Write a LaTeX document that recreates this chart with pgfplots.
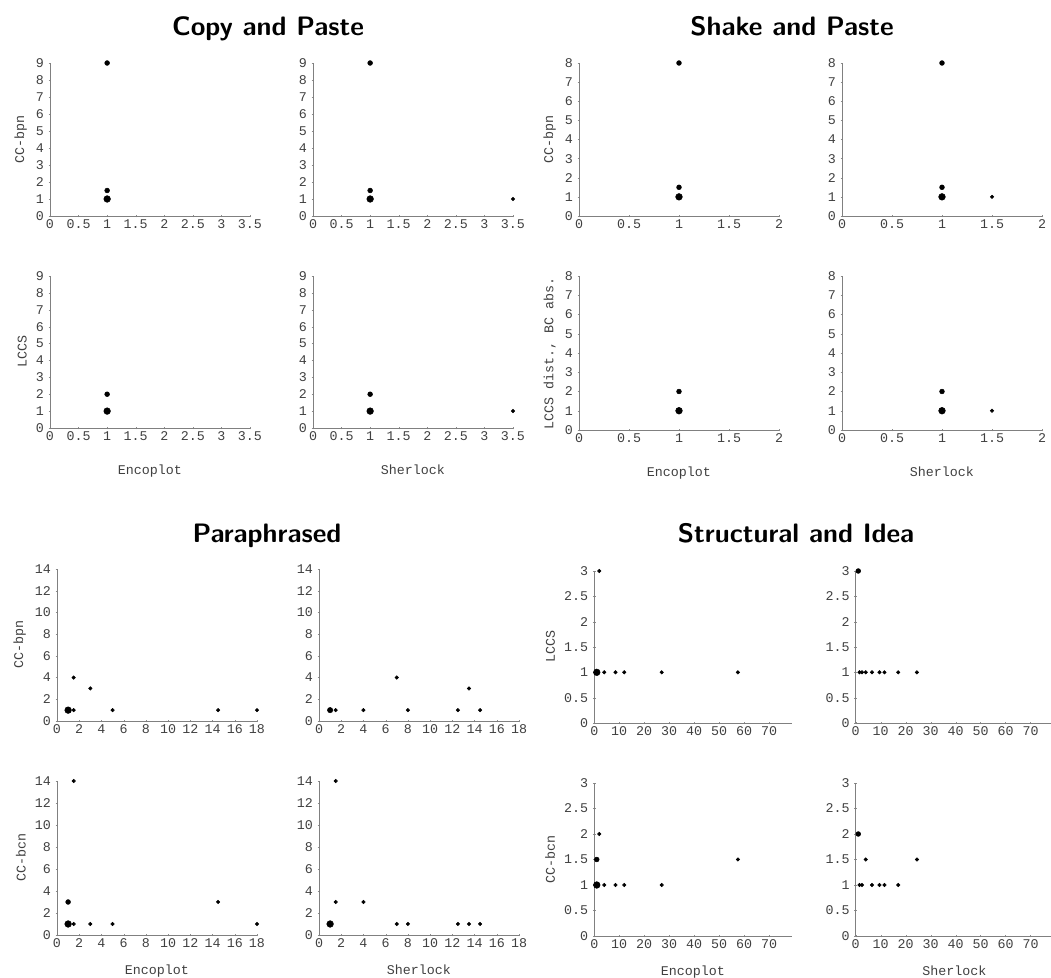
\documentclass[border=0pt]{standalone}
\usepackage{fontspec}
\setmonofont{Liberation Mono}
\usepackage{pgfplots}
\pgfplotsset{compat=1.18}

\pgfplotsset{
  sub/.style={
    scale only axis, anchor=south west,
    axis lines=left, axis line style={-, draw=black!50},
    clip=false,
    tick style={draw=black!45},
    major tick length=2pt,
    /pgf/number format/assume math mode=true,
    tick label style={font=\ttfamily\fontsize{10}{12}\selectfont, text=black!75},
    label style={font=\ttfamily\fontsize{10}{12}\selectfont, text=black!75},
    xticklabel style={inner sep=1.5pt},
    xmin=0, ymin=0,
  },
  cp/.style={sub, width=150pt, xmax=3.5, ymax=9,
    xtick={0,0.5,1,1.5,2,2.5,3,3.5}, ytick={0,1,2,3,4,5,6,7,8,9},
    xlabel style={yshift=-13pt}},
  sp/.style={sub, width=150pt, xmax=2, ymax=8,
    xtick={0,0.5,1,1.5,2}, ytick={0,1,2,3,4,5,6,7,8},
    xlabel style={yshift=-13pt}},
  pa/.style={sub, width=150pt, xmax=18, ymax=14,
    xtick={0,2,4,6,8,10,12,14,16,18}, ytick={0,2,4,6,8,10,12,14},
    xlabel style={yshift=-8pt}},
  st/.style={sub, width=148pt, xmax=79, ymax=3,
    xtick={0,10,20,30,40,50,60,70}, ytick={0,0.5,1,1.5,2,2.5,3},
    xlabel style={yshift=-8pt}},
  big/.style={only marks, mark=*, mark size=2.5pt, black},
  mid/.style={only marks, mark=*, mark size=1.8pt, black},
  small/.style={only marks, mark=*, mark size=1.3pt, black},
}

\begin{document}
\begin{tikzpicture}
\useasboundingbox (0,0) rectangle (788.25pt,733.5pt);

% ---- Copy and Paste ----
\node[font=\sffamily\bfseries\fontsize{20}{24}\selectfont, anchor=base] at (201pt,706.5pt) {Copy and Paste};
\begin{axis}[cp, at={(37.5pt,571.5pt)}, height=114.75pt, ylabel={CC-bpn}]
  \addplot[big] coordinates {(1,1)};
  \addplot[mid] coordinates {(1,1.5) (1,9)};
\end{axis}
\begin{axis}[cp, at={(234.75pt,571.5pt)}, height=114.75pt]
  \addplot[big] coordinates {(1,1)};
  \addplot[mid] coordinates {(1,1.5) (1,9)};
  \addplot[small] coordinates {(3.5,1)};
\end{axis}
\begin{axis}[cp, at={(37.5pt,412.5pt)}, height=114pt, ylabel={LCCS}, xlabel={Encoplot}]
  \addplot[big] coordinates {(1,1)};
  \addplot[mid] coordinates {(1,2)};
\end{axis}
\begin{axis}[cp, at={(234.75pt,412.5pt)}, height=114pt, xlabel={Sherlock}]
  \addplot[big] coordinates {(1,1)};
  \addplot[mid] coordinates {(1,2)};
  \addplot[small] coordinates {(3.5,1)};
\end{axis}

% ---- Shake and Paste ----
\node[font=\sffamily\bfseries\fontsize{20}{24}\selectfont, anchor=base] at (594pt,706.5pt) {Shake and Paste};
\begin{axis}[sp, at={(434.25pt,571.5pt)}, height=114.75pt, ylabel={CC-bpn}]
  \addplot[big] coordinates {(1,1)};
  \addplot[mid] coordinates {(1,1.5) (1,8)};
\end{axis}
\begin{axis}[sp, at={(631.5pt,571.5pt)}, height=114.75pt]
  \addplot[big] coordinates {(1,1)};
  \addplot[mid] coordinates {(1,1.5) (1,8)};
  \addplot[small] coordinates {(1.5,1)};
\end{axis}
\begin{axis}[sp, at={(434.25pt,411pt)}, height=115.5pt, ylabel={LCCS dist., BC abs.}, xlabel={Encoplot}]
  \addplot[big] coordinates {(1,1)};
  \addplot[mid] coordinates {(1,2)};
\end{axis}
\begin{axis}[sp, at={(631.5pt,411pt)}, height=115.5pt, xlabel={Sherlock}]
  \addplot[big] coordinates {(1,1)};
  \addplot[mid] coordinates {(1,2)};
  \addplot[small] coordinates {(1.5,1)};
\end{axis}

% ---- Paraphrased ----
\node[font=\sffamily\bfseries\fontsize{20}{24}\selectfont, anchor=base] at (200.25pt,326.25pt) {Paraphrased};
\begin{axis}[pa, at={(42.75pt,192.75pt)}, height=114pt, ylabel={CC-bpn}]
  \addplot[big] coordinates {(1,1)};
  \addplot[small] coordinates {(1.5,1) (1.5,4) (3,3) (5,1) (14.5,1) (18,1)};
\end{axis}
\begin{axis}[pa, at={(239.25pt,192.75pt)}, height=114pt]
  \addplot[mid, mark size=2pt] coordinates {(1,1)};
  \addplot[small] coordinates {(1.5,1) (4,1) (7,4) (8,1) (12.5,1) (13.5,3) (14.5,1)};
\end{axis}
\begin{axis}[pa, at={(42.75pt,32.25pt)}, height=115.5pt, ylabel={CC-bcn}, xlabel={Encoplot}]
  \addplot[big] coordinates {(1,1)};
  \addplot[mid] coordinates {(1,3)};
  \addplot[small] coordinates {(1.5,14) (1.5,1) (3,1) (5,1) (14.5,3) (18,1)};
\end{axis}
\begin{axis}[pa, at={(239.25pt,32.25pt)}, height=115.5pt, xlabel={Sherlock}]
  \addplot[big] coordinates {(1,1)};
  \addplot[small] coordinates {(1.5,14) (1.5,3) (4,3) (7,1) (8,1) (12.5,1) (13.5,1) (14.5,1)};
\end{axis}

% ---- Structural and Idea ----
\node[font=\sffamily\bfseries\fontsize{20}{24}\selectfont, anchor=base] at (597pt,326.25pt) {Structural and Idea};
\begin{axis}[st, at={(445.7pt,191.25pt)}, height=114pt, ylabel={LCCS}]
  \addplot[big] coordinates {(1,1)};
  \addplot[small] coordinates {(2,3) (4,1) (8.5,1) (12,1) (27,1) (57.5,1)};
\end{axis}
\begin{axis}[st, at={(641.8pt,191.25pt)}, height=114pt]
  \addplot[mid] coordinates {(1,3)};
  \addplot[small] coordinates {(1.5,1) (2.5,1) (4,1) (6.5,1) (9.5,1) (11.5,1) (17,1) (24.5,1)};
\end{axis}
\begin{axis}[st, at={(445.7pt,31.5pt)}, height=114.75pt, ylabel={CC-bcn}, xlabel={Encoplot}]
  \addplot[big] coordinates {(1,1)};
  \addplot[mid] coordinates {(1,1.5)};
  \addplot[small] coordinates {(2,2) (4,1) (8.5,1) (12,1) (27,1) (57.5,1.5)};
\end{axis}
\begin{axis}[st, at={(641.8pt,31.5pt)}, height=114.75pt, xlabel={Sherlock}]
  \addplot[mid] coordinates {(1,2)};
  \addplot[small] coordinates {(1.5,1) (2.5,1) (4,1.5) (6.5,1) (9.5,1) (11.5,1) (17,1) (24.5,1.5)};
\end{axis}
\end{tikzpicture}
\end{document}
